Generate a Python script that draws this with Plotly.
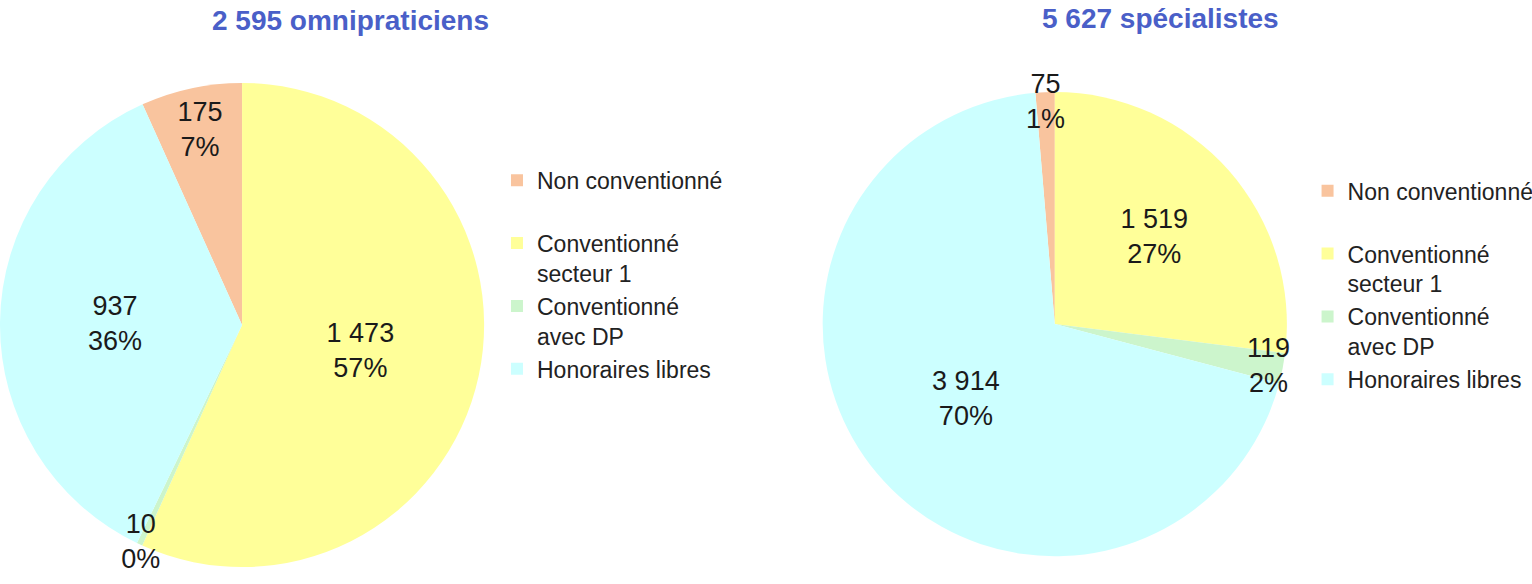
import plotly.graph_objects as go

# ---- data ----
categories = ["Non conventionné", "Conventionné<br>secteur 1", "Conventionné<br>avec DP", "Honoraires libres"]
omni_values = [175, 1473, 10, 937]
spec_values = [75, 1519, 119, 3914]
group_names = ["omnipraticiens", "spécialistes"]

colors = ["#F9C49E", "#FFFF99", "#CCF5CC", "#CCFFFF"]
FONT = "Liberation Sans"


def fmt(n):
    return f"{n:,}".replace(",", " ")


# first legend entry gets an extra blank line to mimic the original spacing
legend_labels = [categories[0] + "<br> "] + categories[1:]

fig = go.Figure()


def add_pie(values, domain, legend_id, group):
    total = sum(values)
    common = dict(
        labels=legend_labels,
        values=values,
        sort=False,
        direction="clockwise",
        rotation=-360 * values[0] / total,
        domain=domain,
    )
    # coloured slices (no text)
    fig.add_trace(go.Pie(
        **common,
        marker=dict(colors=colors, line=dict(width=0)),
        textinfo="none",
        legend=legend_id,
        legendgroup=group,
        hoverinfo="label+value+percent",
        showlegend=True,
    ))
    # transparent overlay carrying the labels so small-slice labels are not hidden
    fig.add_trace(go.Pie(
        **common,
        marker=dict(colors=["rgba(0,0,0,0)"] * len(values), line=dict(width=0)),
        texttemplate="%{value:,}<br>%{percent:.0%}",
        textposition="inside",
        insidetextorientation="horizontal",
        textfont=dict(size=27, color="#1a1a1a", family=FONT),
        hoverinfo="skip",
        legend=legend_id,
        legendgroup=group + "_text",
        showlegend=False,
    ))


add_pie(omni_values, dict(x=[0.0, 0.316], y=[0.029, 0.858]), "legend", "omni")
add_pie(spec_values, dict(x=[0.537, 0.840], y=[0.045, 0.845]), "legend2", "spec")

legend_common = dict(
    font=dict(size=23, family=FONT, color="#222222"),
    bgcolor="rgba(0,0,0,0)",
    xanchor="left",
    yanchor="top",
    valign="top",
    traceorder="normal",
)

fig.update_layout(
    width=1532,
    height=584,
    margin=dict(l=0, r=0, t=0, b=0, autoexpand=False),
    paper_bgcolor="white",
    plot_bgcolor="white",
    separators=", ",
    uniformtext=dict(minsize=27, mode="show"),
    legend=dict(x=0.3244, y=0.728, **legend_common),
    legend2=dict(x=0.8535, y=0.71, **legend_common),
    annotations=[
        dict(text=f"<b>{fmt(sum(omni_values))} {group_names[0]}</b>", x=350 / 1532, y=1 - 20 / 584,
             xref="paper", yref="paper", showarrow=False, xanchor="center", yanchor="middle",
             font=dict(size=28, family=FONT, color="#4A5FC8")),
        dict(text=f"<b>{fmt(sum(spec_values))} {group_names[1]}</b>", x=1160 / 1532, y=1 - 18 / 584,
             xref="paper", yref="paper", showarrow=False, xanchor="center", yanchor="middle",
             font=dict(size=28, family=FONT, color="#4A5FC8")),
    ],
)

fig.write_html("out.html")
